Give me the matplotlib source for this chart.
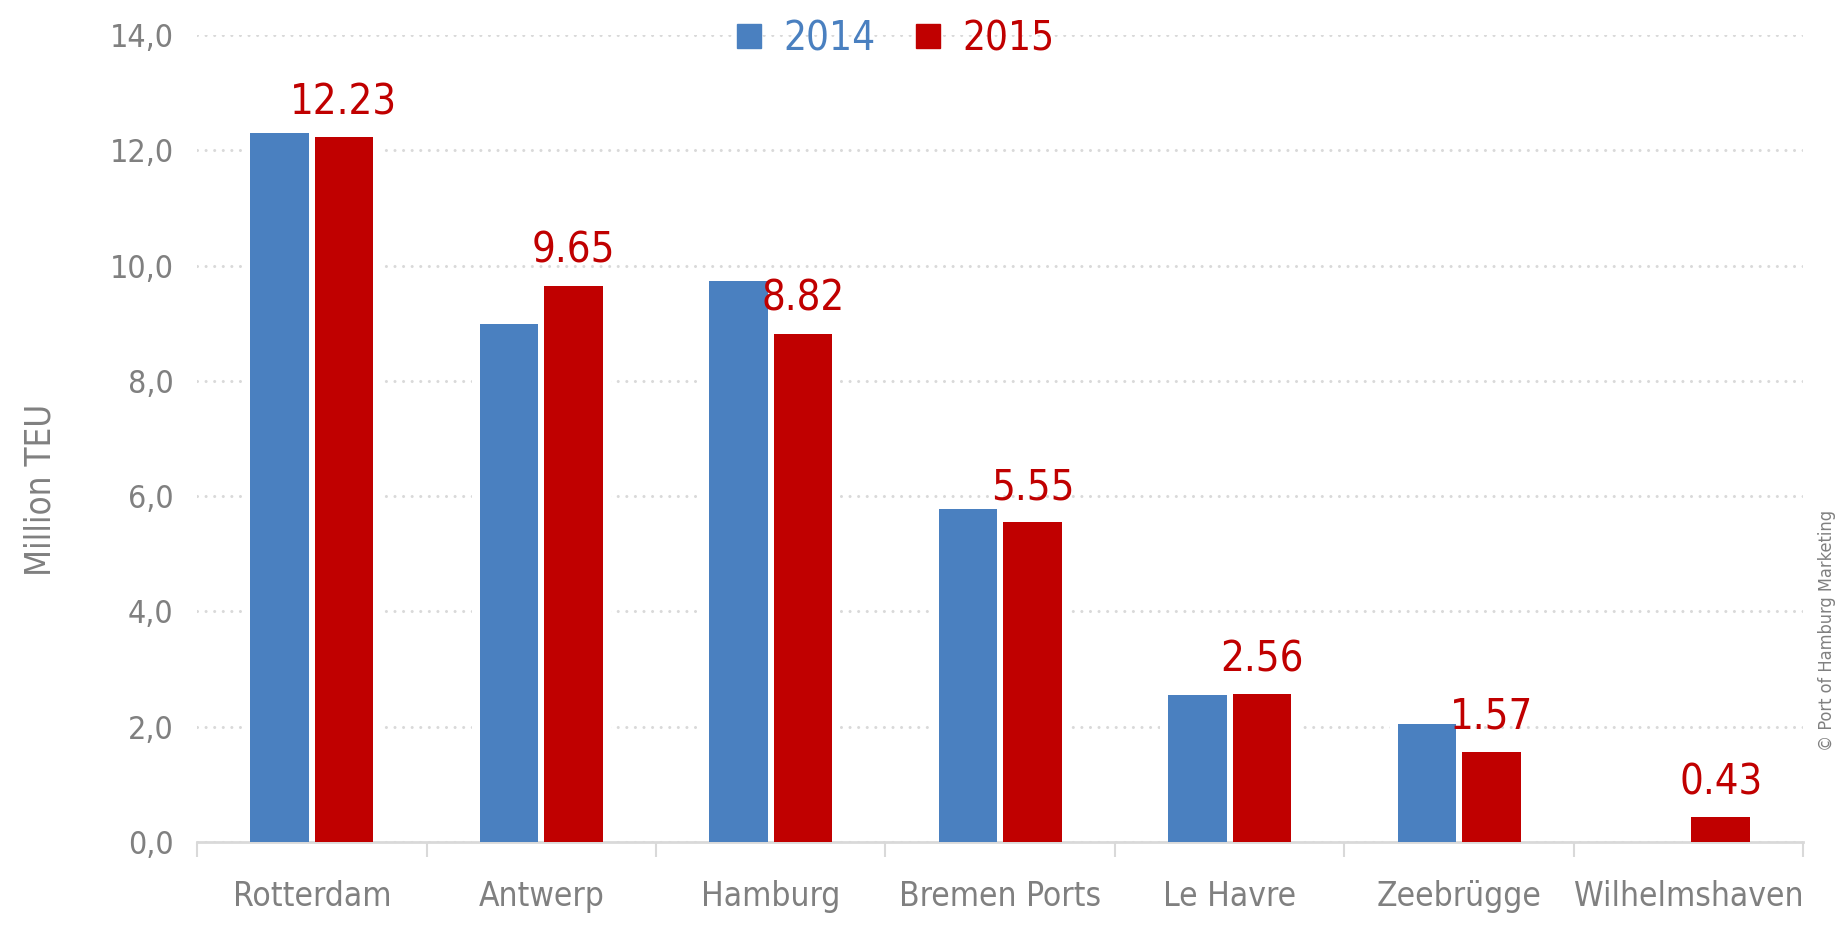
import numpy as np
import matplotlib
matplotlib.use('Agg')
import matplotlib.pyplot as plt
from matplotlib.lines import Line2D

BLUE = '#4a80c0'
RED = '#c00000'
GREY = '#808080'
GRID = '#d9d9d9'

ports = ['Rotterdam', 'Antwerp', 'Hamburg', 'Bremen Ports', 'Le Havre', 'Zeebrügge', 'Wilhelmshaven']
teu_2014 = [12.30, 8.98, 9.73, 5.78, 2.55, 2.04, 0.0]
teu_2015 = [12.23, 9.65, 8.82, 5.55, 2.56, 1.57, 0.43]
yticks = [0, 2, 4, 6, 8, 10, 12, 14]

plt.rcParams['font.family'] = ['DejaVu Sans']
plt.rcParams['font.stretch'] = 'condensed'

fig = plt.figure(figsize=(18.42, 9.25), dpi=100, facecolor='white')
ax = fig.add_axes([0.107, 0.0897, 0.872, 0.8724])

x = np.arange(len(ports))
w = 0.255
off = 0.14

# white halo behind bars so the dotted grid stops short of them
for xs, vals in ((x - off, teu_2014), (x + off, teu_2015)):
    v = np.array(vals)
    m = v > 0
    ax.bar(xs[m], v[m], width=w + 0.07, color='white', zorder=2)

has14 = np.array(teu_2014) > 0
ax.bar(x[has14] - off, np.array(teu_2014)[has14], width=w, color=BLUE, zorder=3)
ax.bar(x + off, teu_2015, width=w, color=RED, zorder=3)

for xi, v in zip(x, teu_2015):
    ax.annotate('%.2f' % v, (xi + off, v), xytext=(0, 10), textcoords='offset points',
                ha='center', va='bottom', color=RED, fontsize=30, zorder=4)

ax.set_xlim(-0.5, len(ports) - 0.5)
ax.set_ylim(0, 14)
ax.set_yticks(yticks)
ax.set_yticklabels(['%d,0' % t for t in yticks])
ax.set_xticks(x)
ax.set_xticklabels(ports)
ax.set_xticks(np.arange(len(ports) + 1) - 0.5, minor=True)

ax.tick_params(axis='y', length=0, pad=17, labelsize=23, labelcolor=GREY)
ax.tick_params(axis='x', which='major', length=0, pad=27, labelsize=24, labelcolor=GREY)
ax.tick_params(axis='x', which='minor', length=11, width=1.5, color=GRID)

for s in ['top', 'right', 'left']:
    ax.spines[s].set_visible(False)
ax.spines['bottom'].set_color(GRID)
ax.spines['bottom'].set_linewidth(2)

ax.grid(axis='y', color=GRID, linewidth=2.2, linestyle=(0, (0.01, 2.8)))
for gl in ax.get_ygridlines():
    gl.set_dash_capstyle('round')
ax.set_axisbelow(True)

ax.set_ylabel('Million TEU', fontsize=25, color=GREY, labelpad=0)
ax.yaxis.set_label_coords(-0.087, 0.437)

handles = [Line2D([], [], marker='s', linestyle='none', markersize=17, color=BLUE),
           Line2D([], [], marker='s', linestyle='none', markersize=17, color=RED)]
leg = ax.legend(handles, ['2014', '2015'], loc='center', bbox_to_anchor=(0.435, 0.995),
                ncol=2, frameon=False, fontsize=29, handlelength=0.6,
                handletextpad=0.55, columnspacing=1.0, borderaxespad=0)
for t, c in zip(leg.get_texts(), [BLUE, RED]):
    t.set_color(c)

fig.text(0.992, 0.318, '© Port of Hamburg Marketing', rotation=90, ha='center', va='center',
         fontsize=13, color=GREY)

fig.savefig('out.png', dpi=100, facecolor='white')
